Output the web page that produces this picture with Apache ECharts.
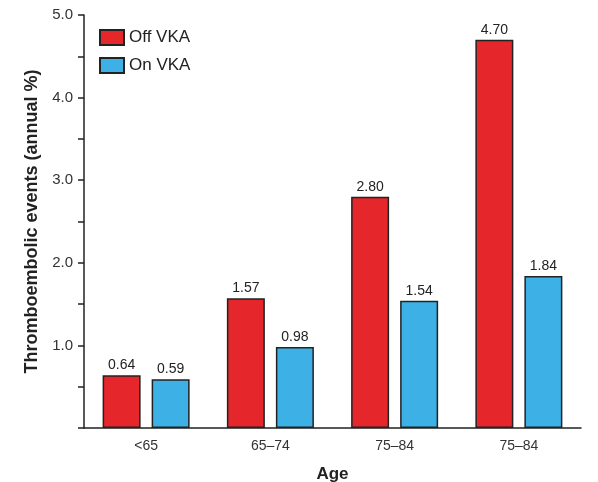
<!DOCTYPE html>
<html><head><meta charset="utf-8">
<script src="https://cdn.jsdelivr.net/npm/echarts@6/dist/echarts.min.js"></script>
<style>html,body{margin:0;padding:0;background:#fff}#c{width:598px;height:482px}</style>
</head><body><div id="c"></div>
<script>
var categories = ['<65', '65\u201374', '75\u201384', '75\u201384'];
var offVKA = [0.64, 1.57, 2.80, 4.70];
var onVKA = [0.59, 0.98, 1.54, 1.84];
var seriesNames = ['Off VKA', 'On VKA'];

var chart = echarts.init(document.getElementById('c'));
var font = 'Liberation Sans, Arial, sans-serif';
var lbl = {show: true, position: 'top', distance: 3, color: '#222', fontSize: 14, fontFamily: font,
  formatter: function(p){ return p.value.toFixed(2); }};
chart.setOption({
  animation: false,
  textStyle: {fontFamily: font},
  legend: {
    orient: 'vertical', left: 94, top: 24, itemWidth: 24, itemHeight: 15, itemGap: 11,
    icon: 'rect',
    textStyle: {fontSize: 17, color: '#222', fontFamily: font},
    data: seriesNames
  },
  grid: {left: 84, right: 17, top: 15, bottom: 54, containLabel: false, outerBoundsMode: 'none'},
  xAxis: {
    type: 'category', data: categories,
    axisLine: {lineStyle: {color: '#222', width: 1.5}},
    axisTick: {show: false},
    axisLabel: {color: '#333', fontSize: 14, margin: 11, fontFamily: font},
    name: 'Age', nameLocation: 'middle', nameGap: 38,
    nameTextStyle: {fontSize: 17, fontWeight: 'bold', color: '#222', fontFamily: font}
  },
  yAxis: {
    type: 'value', min: 0, max: 5, interval: 0.5,
    axisLine: {show: true, lineStyle: {color: '#222', width: 1.5}},
    axisTick: {show: true, length: 6, lineStyle: {color: '#222', width: 1.5}},
    splitLine: {show: false},
    axisLabel: {color: '#333', fontSize: 15, margin: 11, fontFamily: font,
      formatter: function(v){ return (v > 0 && Math.abs(v - Math.round(v)) < 1e-9) ? v.toFixed(1) : ''; }},
    name: 'Thromboembolic events (annual %)', nameLocation: 'middle', nameGap: 42,
    nameTextStyle: {fontSize: 18, fontWeight: 'bold', color: '#222', fontFamily: font}
  },
  series: [
    {name: seriesNames[0], type: 'bar', data: offVKA, barWidth: 38, barGap: '29%',
     itemStyle: {color: '#E5262B', borderColor: '#222', borderWidth: 1.5}, label: lbl},
    {name: seriesNames[1], type: 'bar', data: onVKA, barWidth: 38,
     itemStyle: {color: '#3DB0E6', borderColor: '#222', borderWidth: 1.5}, label: lbl}
  ]
});
</script></body></html>
